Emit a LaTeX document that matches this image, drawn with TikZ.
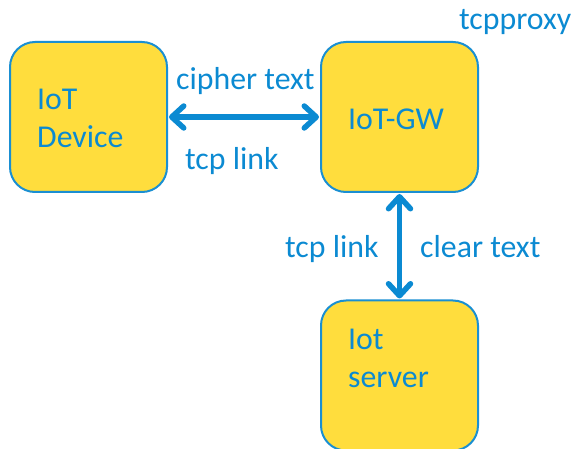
\documentclass[tikz,border=0pt]{standalone}
\usepackage{fontspec}
\setmainfont{Carlito}
\usetikzlibrary{arrows.meta}
\definecolor{boxfill}{HTML}{FFDD3D}
\definecolor{boxline}{HTML}{1A8FD2}
\definecolor{txtblue}{HTML}{0B8AD2}
\begin{document}
\begin{tikzpicture}[x=1pt,y=-1pt,
  box/.style={draw=boxline, fill=boxfill, line width=2pt, rounded corners=25pt,
    minimum width=157pt, minimum height=150pt, inner sep=0pt},
  lbl/.style={text=txtblue, font=\fontsize{31.8}{37}\selectfont, inner sep=0pt, anchor=base west},
  link/.style={draw=txtblue, line width=5.5pt,
    {Straight Barb[length=12pt,width=22pt,round]}-{Straight Barb[length=12pt,width=22pt,round]}, shorten <=1pt, shorten >=1pt}]
\useasboundingbox (0,0) rectangle (574,449);
\node[box] (dev) at (88.5,117) {};
\node[box] (gw) at (399.5,117) {};
\node[box] (srv) at (399.5,375.5) {};
\node[lbl] (t1) at (37,110) {IoT};
\node[lbl] (t2) at (37,148) {Device};
\node[lbl] (t3) at (348,130) {IoT-GW};
\node[lbl] (t4) at (348,350) {Iot};
\node[lbl] (t5) at (348,388) {server};
\node[lbl] (t6) at (459,30) {tcpproxy};
\node[lbl] (t7) at (176,90) {cipher text};
\node[lbl] (t8) at (185,170) {tcp link};
\node[lbl] (t9) at (285,258) {tcp link};
\node[lbl] (t10) at (420,258) {clear text};
\draw[link] (dev.east) -- (gw.west);
\draw[link] (gw.south) -- (srv.north);
\end{tikzpicture}
\end{document}
